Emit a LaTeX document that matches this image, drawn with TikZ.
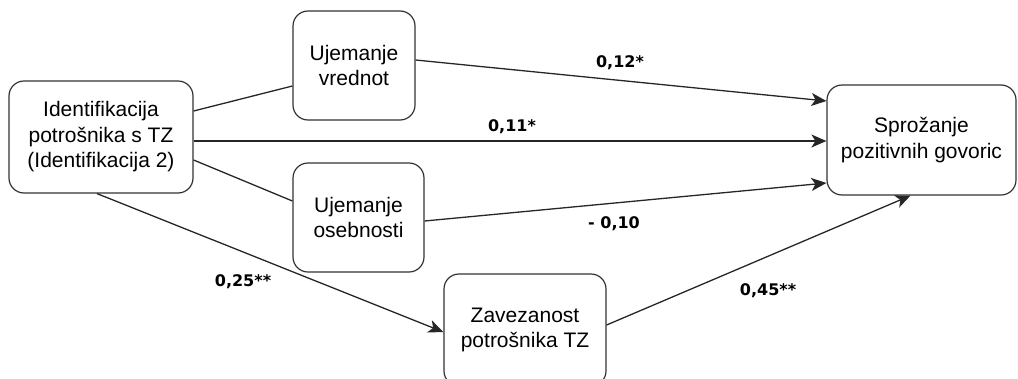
\documentclass[tikz,border=0pt]{standalone}
\usepackage{fontspec}
\setmainfont{Liberation Sans}
\newfontfamily\labfont{DejaVu Sans}
\usetikzlibrary{arrows.meta,calc}
\begin{document}
\begin{tikzpicture}[x=1pt,y=-1pt,
  box/.style={draw=black!80, line width=1.2pt, rounded corners=15pt, align=center,
    font=\fontsize{21}{25.5}\selectfont, inner sep=0pt},
  link/.style={draw=black!85, line width=1.3pt},
  arr/.style={link, -{Stealth[length=15pt,width=13pt,inset=4pt]}},
  coef/.style={font=\labfont\bfseries\fontsize{16}{18}\selectfont, inner sep=0pt}]
\useasboundingbox (0,0) rectangle (1018,378);
% boxes
\node[box, minimum width=184pt, minimum height=112pt] (L) at (101,137)
  {Identifikacija\\potrošnika s TZ\\(Identifikacija 2)};
\node[box, minimum width=122pt, minimum height=109pt] (V) at (354,65.5)
  {Ujemanje\\vrednot};
\node[box, minimum width=131pt, minimum height=109pt] (O) at (358.5,217.5)
  {Ujemanje\\osebnosti};
\node[box, minimum width=162pt, minimum height=112pt] (Z) at (525,330)
  {Zavezanost\\potrošnika TZ};
\node[box, minimum width=189pt, minimum height=110pt] (S) at (921.5,140)
  {Sprožanje\\pozitivnih govoric};
% connectors
\draw[link] ($(L.east)+(0,-26)$) -- ($(V.west)+(0,20.5)$);
\draw[arr] ($(V.east)+(0,-5.5)$) -- ($(S.west)+(0,-39)$);
\draw[arr] ($(L.east)+(0,4)$) -- ($(S.west)+(0,1)$);
\draw[link] ($(L.east)+(0,23)$) -- ($(O.west)+(0,-16.5)$);
\draw[arr] ($(O.east)+(0,3.5)$) -- ($(S.west)+(0,43)$);
\draw[arr] ($(L.south)+(-4,0)$) -- ($(Z.west)+(0,2)$);
\draw[arr] ($(Z.east)+(0,-5)$) -- ($(S.south)+(-11,0)$);
% coefficients
\node[coef] (c1) at (620,63) {0,12*};
\node[coef] (c2) at (512,127) {0,11*};
\node[coef] (c3) at (614,224) {- 0,10};
\node[coef] (c4) at (243,282) {0,25**};
\node[coef] (c5) at (768,291) {0,45**};
\end{tikzpicture}
\end{document}
